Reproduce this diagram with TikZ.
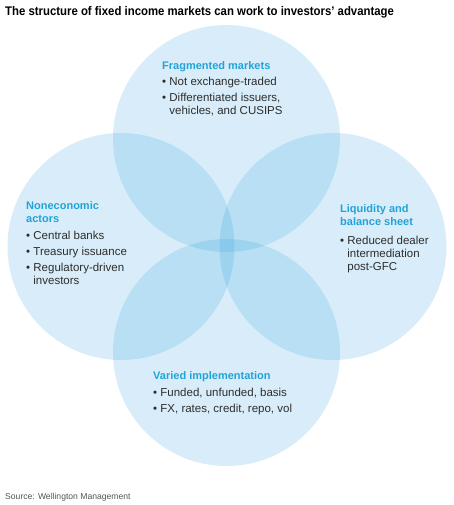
\documentclass[tikz,border=0pt]{standalone}
\usepackage{fontspec}
\setmainfont{Liberation Sans}
\usepackage{graphicx}
\definecolor{vennblue}{RGB}{40,160,222}
\definecolor{headblue}{RGB}{34,163,216}
\definecolor{bodygray}{RGB}{45,45,45}
\definecolor{srcgray}{RGB}{85,85,85}
\tikzset{disc/.style={circle, minimum size=227pt, inner sep=0pt, fill=vennblue, fill opacity=0.18}}
\tikzset{hd/.style={anchor=north west, inner sep=0pt, align=left, text=headblue,
   font=\fontsize{11}{13}\selectfont\bfseries}}
\tikzset{txt/.style={anchor=north west, inner sep=0pt, align=left, text=bodygray,
   font=\fontsize{11.5}{13}\selectfont}}
\newcommand{\blt}{\textbullet\ }
\newcommand{\hang}{\hphantom{\textbullet\ }}

\begin{document}
\begin{tikzpicture}[x=1pt,y=-1pt]

    \useasboundingbox[fill=white] (0,0) rectangle (453,505);

    \node[anchor=base west, inner sep=0pt, font=\fontsize{12.5}{14}\selectfont\bfseries] (title)
      at (5,16) {\scalebox{0.91}[1]{The structure of fixed income markets can work to investors’ advantage}};

    \node[disc] (frag) at (226.5,138.5) {};
    \node[disc] (actors) at (121,246.5) {};
    \node[disc] (liq) at (333,246.5) {};
    \node[disc] (impl) at (226.5,352.5) {};

    \node[hd] (frag-hd) at (162,61) {Fragmented markets};
    \node[txt] (frag-txt) at (162,77) {\blt Not exchange-traded\\[3pt]
      \blt Differentiated issuers,\\ \hang vehicles, and CUSIPS};

    \node[hd] (actors-hd) at (26,201) {Noneconomic\\actors};
    \node[txt] (actors-txt) at (26,231) {\blt Central banks\\[3pt]
      \blt Treasury issuance\\[3pt] \blt Regulatory-driven\\ \hang investors};

    \node[hd] (liq-hd) at (340,204) {Liquidity and\\balance sheet};
    \node[txt] (liq-txt) at (340,236) {\blt Reduced dealer\\ \hang intermediation\\ \hang post-GFC};

    \node[hd] (impl-hd) at (153,371) {Varied implementation};
    \node[txt] (impl-txt) at (153,388) {\blt Funded, unfunded, basis\\[3pt]
      \blt FX, rates, credit, repo, vol};

    \node[anchor=base west, inner sep=0pt, text=srcgray, font=\fontsize{8.6}{10}\selectfont] (src)
      at (5,499.5) {Source: Wellington Management};

  \end{tikzpicture}
\end{document}
